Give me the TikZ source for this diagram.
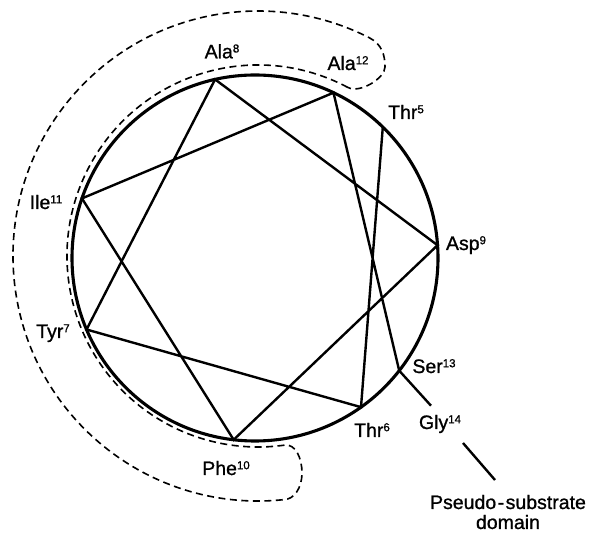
\documentclass[tikz,border=0pt]{standalone}
\usepackage{fontspec}
\setmainfont{Liberation Sans}
\newfontfamily\lblfont{Liberation Sans}[FakeBold=1.0]
\usetikzlibrary{calc}
\newcommand\supn[1]{\raisebox{5.8pt}{\fontsize{11.5}{11.5}\selectfont #1}}
\tikzset{
  wheel/.style={line width=3.1pt},
  chord/.style={line width=2.4pt},
  dashline/.style={line width=1.6pt, dash pattern=on 7pt off 4.5pt},
  lbl/.style={anchor=base, inner sep=0pt, font=\lblfont\fontsize{19.5}{22}\selectfont}
}
\begin{document}
\begin{tikzpicture}[x=1pt,y=1pt]
\useasboundingbox (0,0) rectangle (595,533);
\coordinate (C) at (255,275);
\coordinate (D) at (258,277);
% helix wheel
\draw[wheel] (C) circle[radius=183];
\coordinate (thr5)  at ($(C)+(45.7:183)$);
\coordinate (thr6)  at ($(C)+(-54.6:183)$);
\coordinate (tyr7)  at ($(C)+(-157:183)$);
\coordinate (ala8)  at ($(C)+(102.6:183)$);
\coordinate (asp9)  at ($(C)+(4:183)$);
\coordinate (phe10) at ($(C)+(-96.7:183)$);
\coordinate (ile11) at ($(C)+(161:183)$);
\coordinate (ala12) at ($(C)+(64.6:183)$);
\coordinate (ser13) at ($(C)+(-38:183)$);
\coordinate (gly14) at (431,127.3);
\coordinate (psA) at (463,90);
\coordinate (psB) at (495,53);
\draw[chord, line join=miter] (thr5) -- (thr6) -- (tyr7) -- (ala8) -- (asp9) -- (phe10) -- (ile11) -- (ala12) -- (ser13) -- (gly14);
\draw[chord] (psA) -- (psB);
% dashed hydrophobic outline
\draw[dashline] ($(D)+(62:191)$) arc[start angle=62, end angle=278, radius=191]
  .. controls (295.5,89.4) and (302,75) .. (302,60)
  .. controls (302,45) and (294,33.3) .. ($(D)+(276:245)$)
  arc[start angle=276, end angle=63, radius=245]
  .. controls (382,488.7) and (385,478) .. (385,466)
  .. controls (385,455) and (360,439) .. cycle;
% labels
\node[lbl] (lala8)  at (222,474.7) {Ala\supn{8}};
\node[lbl] (lala12) at (348,463) {Ala\supn{12}};
\node[lbl] (lthr5)  at (406,414) {Thr\supn{5}};
\node[lbl] (lasp9)  at (466,283) {Asp\supn{9}};
\node[lbl] (lile11) at (46,324) {Ile\supn{11}};
\node[lbl] (ltyr7)  at (53,195) {Tyr\supn{7}};
\node[lbl] (lphe10) at (226,58) {Phe\supn{10}};
\node[lbl] (lthr6)  at (372,96) {Thr\supn{6}};
\node[lbl] (lser13) at (434,160) {Ser\supn{13}};
\node[lbl] (lgly14) at (440,104) {Gly\supn{14}};
\node[lbl] (lps1) at (508,24) {Pseudo\kern1.5pt-\kern1.5pt substrate};
\node[lbl] (lps2) at (508,4) {domain};
\end{tikzpicture}
\end{document}
